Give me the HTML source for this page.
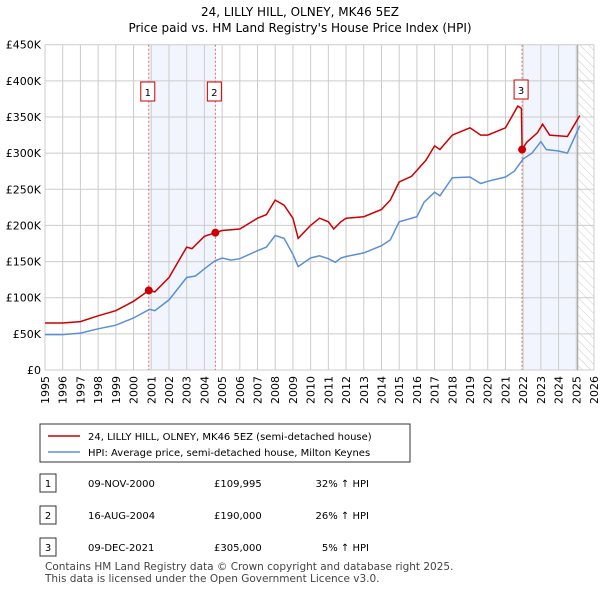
<!DOCTYPE html>
<html><head><meta charset="utf-8"><style>
body{margin:0;background:#fff;font-family:"Liberation Sans","DejaVu Sans",sans-serif;}
svg text{font-family:"DejaVu Sans","Liberation Sans",sans-serif;}
</style></head><body>
<svg width="600" height="590" viewBox="0 0 600 590" xmlns="http://www.w3.org/2000/svg">
<defs><pattern id="hatch" width="6" height="6" patternUnits="userSpaceOnUse" patternTransform="rotate(-45)"><line x1="0" y1="0" x2="0" y2="6" stroke="#ccc" stroke-width="1"/></pattern></defs>
<text x="300" y="16" text-anchor="middle" font-size="12">24, LILLY HILL, OLNEY, MK46 5EZ</text>
<text x="300" y="32" text-anchor="middle" font-size="12">Price paid vs. HM Land Registry's House Price Index (HPI)</text>
<g id="plot"></g>
<g>
<rect x="40" y="424" width="370" height="38" fill="#fff" stroke="#333"/>
<line x1="48" y1="436" x2="80" y2="436" stroke="#cc0000" stroke-width="1.5"/>
<text x="88" y="440" font-size="10">24, LILLY HILL, OLNEY, MK46 5EZ (semi-detached house)</text>
<line x1="48" y1="452" x2="80" y2="452" stroke="#5b8fd6" stroke-width="1.5"/>
<text x="88" y="456" font-size="10">HPI: Average price, semi-detached house, Milton Keynes</text>
</g>
<g id="table" font-size="10"></g>
<text x="45" y="570" font-size="10.5" fill="#444">Contains HM Land Registry data © Crown copyright and database right 2025.</text>
<text x="45" y="582" font-size="10.5" fill="#444">This data is licensed under the Open Government Licence v3.0.</text>
</svg>
<script>
const yTicks=[0,50,100,150,200,250,300,350,400,450];
const yTickLabels=["£0","£50K","£100K","£150K","£200K","£250K","£300K","£350K","£400K","£450K"];
const hpiYears=[1995,1996,1997,1998,1999,2000,2000.9,2001.2,2002,2003,2003.5,2004,2004.6,2005,2005.5,2006,2007,2007.5,2008,2008.5,2009,2009.3,2009.7,2010,2010.5,2011,2011.4,2011.7,2012,2013,2014,2014.5,2015,2016,2016.4,2017,2017.3,2018,2019,2019.6,2020,2021,2021.5,2022,2022.5,2023,2023.3,2024,2024.5,2025.2];
const hpiValues=[49,49,51,57,62,72,84,82,97,128,130,140,151,155,152,154,165,170,186,182,160,143,150,155,158,154,149,155,157,162,172,180,205,212,232,246,241,266,267,258,261,267,275,292,300,316,305,303,300,338];
const priceYears=[1995,1996,1997,1998,1999,2000,2000.86,2001.2,2002,2003,2003.3,2004,2004.62,2005,2006,2007,2007.5,2008,2008.5,2009,2009.3,2009.6,2010,2010.5,2011,2011.3,2011.7,2012,2013,2014,2014.5,2015,2015.7,2016.5,2017,2017.3,2018,2019,2019.6,2020,2021,2021.7,2021.9,2021.94,2022.2,2022.8,2023.1,2023.5,2024.5,2025.2];
const priceValues=[65,65,67,75,82,95,110,108,128,170,168,185,190,193,195,210,215,235,228,210,182,190,200,210,205,195,205,210,212,222,235,260,268,290,310,305,325,335,325,325,335,365,362,305,315,328,340,325,323,352];
const saleYears=[2000.86,2004.62,2021.94];
const saleValues=[110,190,305];
const saleLabels=["1","2","3"];
const saleDates=["09-NOV-2000","16-AUG-2004","09-DEC-2021"];
const salePrices=["£109,995","£190,000","£305,000"];
const saleHpi=["32% ↑ HPI","26% ↑ HPI","5% ↑ HPI"];
const years=[];for(let y=1995;y<=2026;y++)years.push(y);

const L=45,R=594,T=44.7,B=370,X0=1995,X1=2026,YMAX=450;
const sx=v=>L+(v-X0)/(X1-X0)*(R-L);
const sy=v=>B-v/YMAX*(B-T);
const NS="http://www.w3.org/2000/svg";
const plot=document.getElementById('plot');
function mk(tag,attrs,parent){const e=document.createElementNS(NS,tag);for(const k in attrs)e.setAttribute(k,attrs[k]);(parent||plot).appendChild(e);return e;}
let r=mk('rect',{x:sx(saleYears[0]),y:T,width:sx(saleYears[1])-sx(saleYears[0]),height:B-T,fill:'#eef3fc',opacity:0.8});


r=mk('rect',{x:sx(saleYears[2]),y:T,width:sx(2025.08)-sx(saleYears[2]),height:B-T,fill:'#eef3fc',opacity:0.8});


r=mk('rect',{x:sx(2025.08),y:T,width:R-sx(2025.08),height:B-T,fill:'url(#hatch)'});


years.forEach(y=>{const l=mk('line',{x1:sx(y),x2:sx(y),y1:T,y2:B,stroke:'#cccccc','stroke-width':1});


const t=mk('text',{x:0,y:0,'font-size':11,'text-anchor':'end',transform:`translate(${sx(y)+4},${B+6}) rotate(-90)`});t.textContent=y;

});
yTicks.forEach((v,i)=>{const l=mk('line',{x1:L,x2:R,y1:sy(v),y2:sy(v),stroke:'#cccccc','stroke-width':1});


const t=mk('text',{x:L-4,y:sy(v)+4,'font-size':11,'text-anchor':'end'});t.textContent=yTickLabels[i];

});
let vl=mk('line',{x1:sx(2025.08),x2:sx(2025.08),y1:T,y2:B,stroke:'#999','stroke-width':1});


saleYears.forEach((y,i)=>{const l=mk('line',{x1:sx(y),x2:sx(y),y1:T,y2:B,stroke:'#e06666','stroke-width':1,'stroke-dasharray':'2,2'});

});
function path(xs,vs,color,name){const d=xs.map((x,i)=>(i?'L':'M')+sx(x).toFixed(1)+','+sy(vs[i]).toFixed(1)).join('');
const p=mk('path',{d,fill:'none',stroke:color,'stroke-width':1.5});

}
path(hpiYears,hpiValues,'#5b8fd6','hpi-line');
path(priceYears,priceValues,'#cc0000','price-paid-line');
saleYears.forEach((y,i)=>{const c=mk('circle',{cx:sx(y),cy:sy(saleValues[i]),r:4,fill:'#cc0000'});


const g=mk('g',{});


mk('rect',{x:sx(y)-8,y:i<2?82:80,width:14,height:19,fill:'#fff',stroke:'#cc0000'},g);
const t=mk('text',{x:sx(y)-1,y:(i<2?82:80)+14,'font-size':10,'text-anchor':'middle'},g);t.textContent=saleLabels[i];});
const tb=document.getElementById('table');
saleLabels.forEach((s,i)=>{const y=484+i*32;const g=mk('g',{},tb);


mk('rect',{x:40,y:y-10,width:16,height:18,fill:'#fff',stroke:'#333'},g);
let t=mk('text',{x:48,y:y+3,'text-anchor':'middle'},g);t.textContent=s;
t=mk('text',{x:88,y:y+3},g);t.textContent=saleDates[i];
t=mk('text',{x:214,y:y+3},g);t.textContent=salePrices[i];
t=mk('text',{x:369,y:y+3,'text-anchor':'end'},g);t.textContent=saleHpi[i];});
</script>
</body></html>
